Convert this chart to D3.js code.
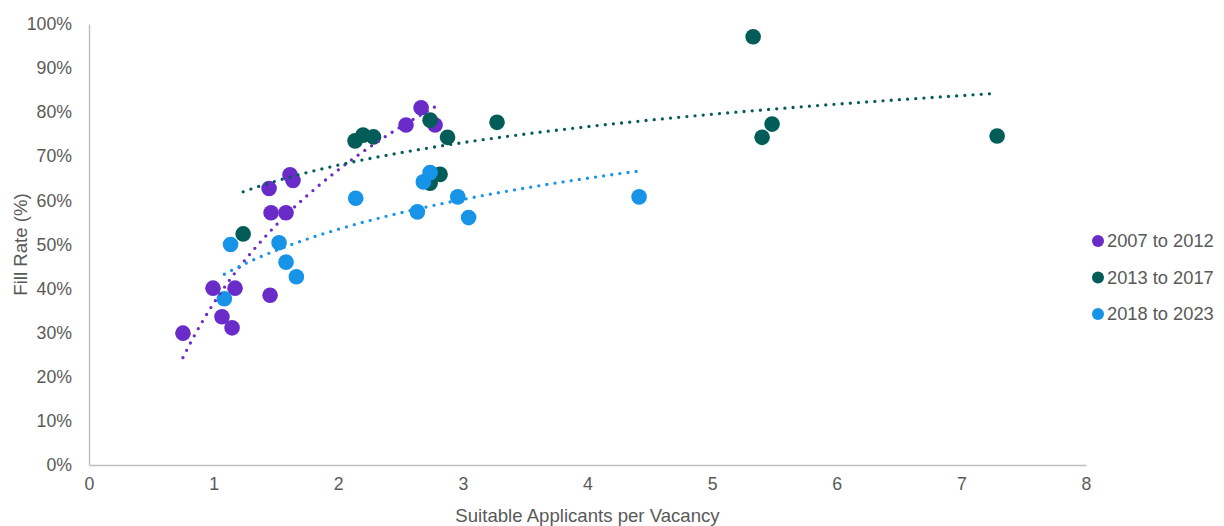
<!DOCTYPE html>
<html>
<head>
<meta charset="utf-8">
<script src="https://cdn.jsdelivr.net/npm/d3@7"></script>
<style>
  html, body { margin: 0; padding: 0; background: #fff; }
  svg { display: block; font-family: "Liberation Sans", Arial, sans-serif; }
</style>
</head>
<body>
<svg id="chart" width="1224" height="526"></svg>
<script>
// ---- Data ----
const seriesNames = ["2007 to 2012", "2013 to 2017", "2018 to 2023"];
const seriesColors = ["#6A2CC8", "#025C58", "#1794E8"];

const x2007 = [0.754, 0.995, 1.067, 1.148, 1.172, 1.445, 1.461, 1.453, 1.581, 1.613, 1.637, 2.544, 2.665, 2.777];
const y2007 = [0.299, 0.401, 0.336, 0.311, 0.401, 0.627, 0.572, 0.385, 0.572, 0.658, 0.645, 0.771, 0.810, 0.771];

const x2013 = [1.237, 2.135, 2.199, 2.283, 2.737, 2.877, 3.274, 2.817, 2.737, 5.329, 5.401, 5.481, 7.287];
const y2013 = [0.524, 0.735, 0.748, 0.744, 0.782, 0.743, 0.777, 0.659, 0.639, 0.971, 0.743, 0.773, 0.746];

const x2018 = [1.136, 1.086, 1.525, 1.581, 1.664, 2.140, 2.635, 2.683, 2.737, 2.959, 3.046, 4.414];
const y2018 = [0.500, 0.377, 0.504, 0.460, 0.427, 0.605, 0.574, 0.642, 0.663, 0.608, 0.561, 0.608];

const xTicks = [0, 1, 2, 3, 4, 5, 6, 7, 8];
const yTicks = [0, 0.1, 0.2, 0.3, 0.4, 0.5, 0.6, 0.7, 0.8, 0.9, 1.0];
const xTitle = "Suitable Applicants per Vacancy";
const yTitle = "Fill Rate (%)";

// ---- Build ----
const series = [
  { name: seriesNames[0], color: seriesColors[0], pts: x2007.map((x, i) => ({ x, y: y2007[i] })) },
  { name: seriesNames[1], color: seriesColors[1], pts: x2013.map((x, i) => ({ x, y: y2013[i] })) },
  { name: seriesNames[2], color: seriesColors[2], pts: x2018.map((x, i) => ({ x, y: y2018[i] })) }
];

const svg = d3.select("#chart");
const textColor = "#595959";
const axisColor = "#BFBFBF";

const x = d3.scaleLinear().domain([0, 8]).range([89, 1086]);
const y = d3.scaleLinear().domain([0, 1]).range([465, 24]);

// Axes
const xAxis = svg.append("g").attr("transform", `translate(0,${y(0)})`)
  .call(d3.axisBottom(x).tickValues(xTicks).tickSize(0).tickPadding(12).tickFormat(d3.format("d")));
const yAxis = svg.append("g").attr("transform", `translate(${x(0)},0)`)
  .call(d3.axisLeft(y).tickValues(yTicks).tickSize(0).tickPadding(17).tickFormat(d3.format(".0%")));
[xAxis, yAxis].forEach(g => {
  g.select(".domain").attr("stroke", axisColor).attr("stroke-width", 1.4);
  g.selectAll("text").attr("fill", textColor).style("font-size", "17.7px")
    .style("font-family", "'Liberation Sans', Arial, sans-serif");
});
xAxis.selectAll("text").attr("dy", "0.71em");

// Axis titles
svg.append("text").attr("x", (x(0) + x(8)) / 2).attr("y", 522)
  .attr("text-anchor", "middle").attr("fill", textColor).style("font-size", "18.6px").text(xTitle);
svg.append("text").attr("transform", `translate(27,${(y(0) + y(1)) / 2}) rotate(-90)`)
  .attr("text-anchor", "middle").attr("fill", textColor).style("font-size", "18.6px").text(yTitle);

// Points
series.forEach(s => {
  svg.append("g").selectAll("circle").data(s.pts).join("circle")
    .attr("cx", d => x(d.x)).attr("cy", d => y(d.y)).attr("r", 7.8)
    .attr("fill", s.color);
});

// Logarithmic trendlines (least squares y = a + b ln x), drawn from min x to max x
series.forEach(s => {
  const lx = s.pts.map(p => Math.log(p.x));
  const ys = s.pts.map(p => p.y);
  const mx = d3.mean(lx), my = d3.mean(ys);
  const b = d3.sum(lx, (v, i) => (v - mx) * (ys[i] - my)) / d3.sum(lx, v => (v - mx) ** 2);
  const a = my - b * mx;
  const [x0, x1] = d3.extent(s.pts, p => p.x);
  const samples = d3.range(0, 201).map(i => x0 + (x1 - x0) * i / 200);
  const line = d3.line().x(v => x(v)).y(v => y(a + b * Math.log(v)));
  svg.append("path").datum(samples).attr("d", line)
    .attr("fill", "none").attr("stroke", s.color).attr("stroke-width", 3.3)
    .attr("stroke-linecap", "round").attr("stroke-dasharray", "0 8.2");
});

// Legend
const legend = svg.append("g");
series.forEach((s, i) => {
  const cy = 241 + i * 36.5;
  legend.append("circle").attr("cx", 1098).attr("cy", cy).attr("r", 6).attr("fill", s.color);
  legend.append("text").attr("x", 1107).attr("y", cy).attr("dy", "0.35em")
    .attr("fill", textColor).style("font-size", "18.3px").text(s.name);
});
</script>
</body>
</html>
